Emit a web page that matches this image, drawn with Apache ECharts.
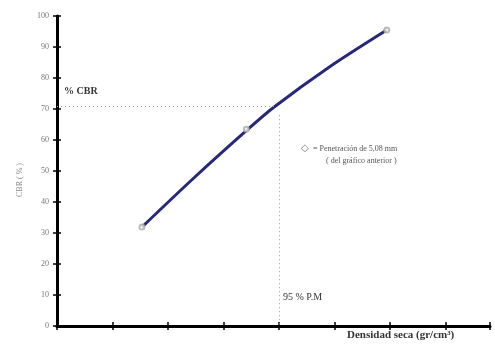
<!DOCTYPE html>
<html>
<head>
<meta charset="utf-8">
<script src="https://cdn.jsdelivr.net/npm/echarts@6/dist/echarts.min.js"></script>
<style>
  html, body { margin: 0; padding: 0; background: #fff; }
  #chart { width: 495px; height: 345px; }
</style>
</head>
<body>
<div id="chart"></div>
<script>
// curve (x in tick units, CBR in %)
const curveX = [1.53, 2.45, 3.41, 3.9, 4.9, 5.94]
const curveY = [31.9, 47.5, 63.0, 70.5, 83.5, 95.5]
// open markers: "Penetración de 5,08 mm"
const pointX = [1.53, 3.41, 5.94]
const pointY = [31.9, 63.5, 95.5]
const cbrRef = 71
const densRef = 4.0
const yTicks = [0, 10, 20, 30, 40, 50, 60, 70, 80, 90, 100]

const FONT = 'Liberation Serif'
const chart = echarts.init(document.getElementById('chart'))

const pairs = (xs, ys) => xs.map((x, i) => [x, ys[i]])

const xBase = { type: 'value', min: 0, max: 7.8, interval: 1, splitLine: { show: false }, axisLabel: { show: false } }
const yBase = { type: 'value', min: 0, max: 100, interval: 10, splitLine: { show: false } }
const tickStyle = { color: '#000', width: 1.5 }

chart.setOption({
  animation: false,
  grid: { left: 57, right: 5, top: 16, bottom: 19 },
  xAxis: [
    Object.assign({}, xBase, {
      axisLine: { lineStyle: { color: '#000', width: 3 } },
      axisTick: { show: true, length: 4, lineStyle: tickStyle }
    }),
    // inner half of the crossing ticks
    Object.assign({}, xBase, {
      position: 'bottom',
      axisLine: { show: false },
      axisTick: { show: true, inside: true, length: 4, lineStyle: tickStyle }
    })
  ],
  yAxis: [
    Object.assign({}, yBase, {
      axisLine: { show: true, lineStyle: { color: '#000', width: 3 } },
      axisTick: { show: true, length: 4, lineStyle: tickStyle },
      axisLabel: {
        color: '#777', fontFamily: FONT, fontSize: 8, margin: 8,
        formatter: v => yTicks.includes(v) ? String(v) : ''
      }
    }),
    Object.assign({}, yBase, {
      position: 'left',
      axisLine: { show: false },
      axisTick: { show: true, inside: true, length: 4, lineStyle: tickStyle },
      axisLabel: { show: false }
    })
  ],
  series: [
    {
      type: 'line',
      data: pairs(curveX, curveY),
      smooth: 0.3,
      showSymbol: false,
      lineStyle: { color: '#28287a', width: 3 },
      z: 3,
      markLine: {
        silent: true,
        symbol: 'none',
        label: { show: false },
        lineStyle: { color: '#999', type: [1, 3], width: 1 },
        data: [
          [{ coord: [0, cbrRef] }, { coord: [densRef, cbrRef] }],
          [{ coord: [densRef, cbrRef - 3] }, { coord: [densRef, 0] }]
        ]
      }
    },
    {
      type: 'scatter',
      data: pairs(pointX, pointY),
      symbol: 'emptyCircle',
      symbolSize: 5,
      itemStyle: { color: '#aaa', borderWidth: 1 },
      z: 5
    }
  ],
  graphic: [
    { type: 'text', left: 64, top: 86, style: { text: '% CBR', font: 'bold 10px ' + FONT, fill: '#333' } },
    { type: 'text', left: 283, top: 292, style: { text: '95 % P.M', font: '10px ' + FONT, fill: '#333' } },
    { type: 'text', left: 347, top: 330, style: { text: 'Densidad seca (gr/cm³)', font: 'bold 11px ' + FONT, fill: '#333' } },
    { type: 'text', left: 301, top: 143, style: { text: '◇', font: '10px ' + FONT, fill: '#777' } },
    { type: 'text', left: 313, top: 145, style: { text: '= Penetración de 5,08 mm', font: '8px ' + FONT, fill: '#555' } },
    { type: 'text', left: 326, top: 157, style: { text: '( del gráfico anterior )', font: '8px ' + FONT, fill: '#555' } },
    {
      type: 'text', x: 20, y: 180, rotation: Math.PI / 2,
      style: { text: 'CBR ( % )', font: '8px ' + FONT, fill: '#888', align: 'center', verticalAlign: 'middle' }
    }
  ]
})
</script>
</body>
</html>
